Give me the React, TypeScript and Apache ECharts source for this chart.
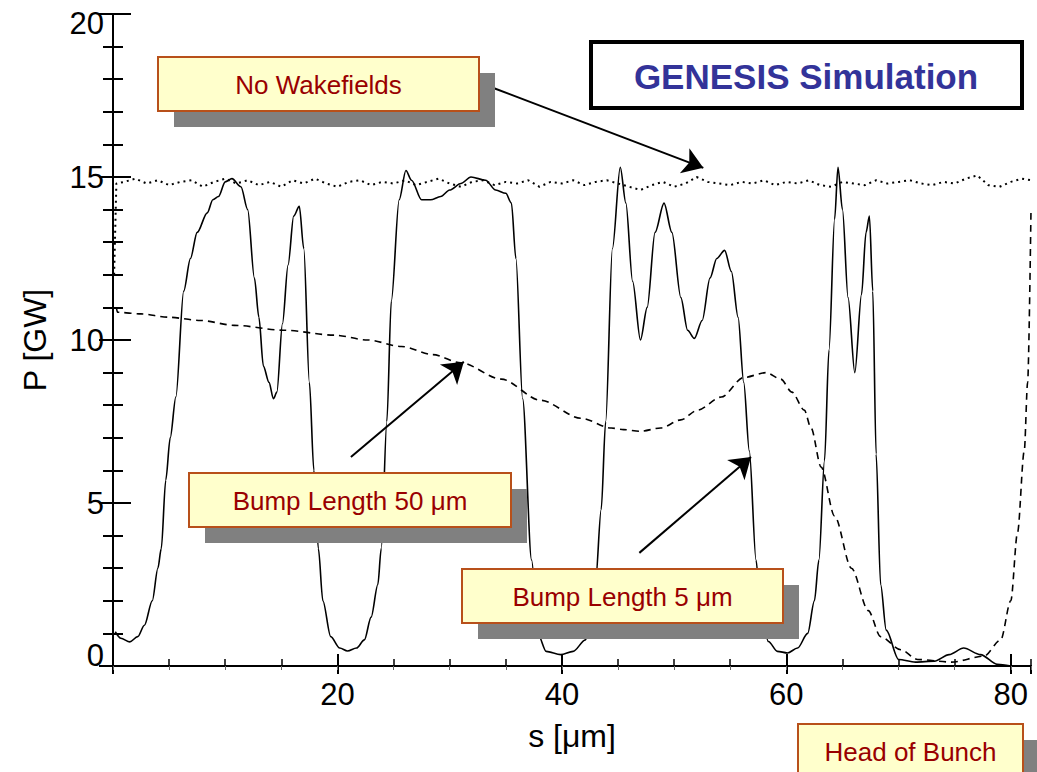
import React, { useEffect, useRef } from "react";
import * as echarts from "echarts";

// ---- Data ----
// Solid line: Bump Length 5 µm
const s5 = [0.2, 0.7, 1.5, 2.2, 2.8, 3.5, 4.0, 4.3, 4.7, 5.1, 5.6, 6.3, 6.9, 7.5, 8.4, 8.9, 9.4, 10.0, 10.6, 11.4, 12.0, 12.6, 13.0, 13.4, 13.9, 14.3, 14.6, 15.1, 15.6, 16.1, 16.6, 17.0, 17.5, 17.9, 18.3, 18.7, 19.4, 20.2, 20.9, 21.7, 22.4, 23.0, 23.6, 23.9, 24.4, 24.8, 25.5, 26.1, 26.6, 27.5, 28.3, 29.2, 30.0, 31.0, 31.9, 33.2, 34.1, 35.0, 35.5, 35.9, 36.5, 37.3, 37.9, 38.6, 39.9, 41.0, 42.1, 43.0, 43.5, 43.9, 44.5, 45.2, 45.7, 46.3, 47.0, 47.6, 48.3, 49.1, 49.8, 50.6, 51.2, 51.8, 52.5, 53.2, 53.8, 54.5, 55.1, 55.7, 56.2, 56.7, 57.3, 57.7, 58.4, 59.2, 60.1, 61.0, 61.9, 62.5, 62.9, 63.4, 63.8, 64.3, 64.6, 65.0, 65.5, 66.1, 66.7, 67.1, 67.4, 67.7, 68.0, 68.4, 68.9, 70.0, 71.5, 73.2, 74.5, 75.8, 77.3, 78.8, 80.0];
const p5 = [1.05, 0.85, 0.74, 0.9, 1.25, 2.0, 3.0, 3.6, 5.7, 7.0, 8.25, 11.5, 12.5, 13.3, 13.9, 14.3, 14.4, 14.85, 14.95, 14.7, 14.0, 11.9, 10.7, 9.2, 8.7, 8.2, 8.4, 10.5, 12.3, 13.8, 14.1, 12.8, 8.7, 6.0, 3.6, 2.0, 0.9, 0.55, 0.46, 0.55, 0.8, 1.5, 2.5, 3.6, 7.5, 11.2, 14.3, 15.2, 14.9, 14.3, 14.3, 14.4, 14.6, 14.8, 15.0, 14.9, 14.6, 14.5, 14.2, 12.5, 8.2, 3.25, 0.95, 0.45, 0.35, 0.45, 0.8, 2.6, 4.8, 7.5, 12.8, 15.3, 14.2, 11.8, 10.0, 11.0, 13.3, 14.2, 13.3, 11.3, 10.3, 10.05, 10.6, 11.9, 12.5, 12.75, 12.1, 10.7, 8.7, 6.6, 3.25, 1.7, 0.75, 0.45, 0.4, 0.55, 1.0, 2.0, 3.25, 6.3, 9.7, 13.7, 15.3, 14.0, 11.3, 9.0, 11.4, 13.3, 13.8, 11.5, 6.5, 2.5, 1.1, 0.2, 0.12, 0.15, 0.35, 0.55, 0.35, 0.05, 0.0];

// Dashed line: Bump Length 50 µm
const s50 = [0.3, 0.4, 2.5, 4.9, 7.8, 10.8, 15.2, 19.7, 22.7, 25.7, 28.5, 31.0, 34.6, 38.1, 41.7, 44.4, 45.5, 47.0, 48.8, 50.6, 52.1, 54.2, 56.2, 58.2, 59.5, 60.5, 61.6, 62.2, 63.1, 64.3, 65.8, 67.3, 68.4, 70.2, 71.7, 74.7, 77.6, 79.1, 80.0, 80.6, 81.2, 81.5, 81.8];
const p50 = [11.0, 10.85, 10.8, 10.7, 10.6, 10.45, 10.3, 10.15, 10.0, 9.8, 9.55, 9.3, 8.8, 8.15, 7.6, 7.3, 7.25, 7.2, 7.3, 7.55, 7.85, 8.25, 8.85, 9.0, 8.8, 8.4, 7.85, 7.3, 6.1, 4.6, 3.0, 1.7, 0.9, 0.5, 0.2, 0.12, 0.3, 0.8, 2.0, 4.1, 6.6, 8.7, 14.0];

// Dotted line: No Wakefields
const sNo = [0.1, 0.3, 1, 2, 3, 4, 5, 6, 7, 8, 9, 10, 11, 12, 13, 14, 15, 16, 17, 18, 19, 20, 21, 22, 23, 24, 25, 26, 27, 28, 29, 30, 31, 32, 33, 34, 35, 36, 37, 38, 39, 40, 41, 42, 43, 44, 45, 46, 47, 48, 49, 50, 51, 52, 53, 54, 55, 56, 57, 58, 59, 60, 61, 62, 63, 64, 65, 66, 67, 68, 69, 70, 71, 72, 73, 74, 75, 76, 77, 78, 79, 80, 81, 81.8];
const pNo = [12.0, 14.8, 14.85, 14.95, 14.8, 14.9, 14.75, 14.85, 14.9, 14.7, 14.85, 14.95, 14.8, 14.9, 14.75, 14.85, 14.7, 14.9, 14.8, 14.95, 14.8, 14.7, 14.85, 14.9, 14.75, 14.85, 14.8, 14.9, 14.75, 14.85, 14.95, 14.8, 14.7, 14.85, 14.9, 14.75, 14.85, 14.8, 14.9, 14.7, 14.85, 14.8, 14.9, 14.75, 14.85, 14.9, 14.8, 14.7, 14.6, 14.75, 14.85, 14.7, 14.8, 15.0, 14.85, 14.8, 14.75, 14.85, 14.8, 14.9, 14.75, 14.85, 14.8, 14.9, 14.75, 14.7, 14.85, 14.8, 14.75, 14.9, 14.8, 14.85, 14.9, 14.8, 14.75, 14.85, 14.8, 14.95, 15.05, 14.75, 14.7, 14.85, 14.95, 14.9];

// Annotation arrows (start [s, P] -> tip [s, P])
const arrowNoWake = [[33.9, 17.73], [52.6, 15.28]];
const arrow50 = [[21.2, 6.41], [31.26, 9.33]];
const arrow5 = [[46.9, 3.47], [56.85, 6.41]];

const FONT = "'Liberation Sans', Arial, Helvetica, sans-serif";

function labelBox(x: number, y: number, w: number, h: number, text: string) {
  return {
    type: "group",
    z: 100,
    children: [
      { type: "rect", shape: { x: x + 16, y: y + 16, width: w, height: h }, style: { fill: "#808080" }, z: 100 },
      { type: "rect", shape: { x, y, width: w, height: h }, style: { fill: "#FFFFCC", stroke: "#B8501A", lineWidth: 2 }, z: 101 },
      {
        type: "text",
        x: x + w / 2,
        y: y + h / 2 + 1,
        z: 102,
        style: { text, fill: "#990000", font: `26px ${FONT}`, align: "center", verticalAlign: "middle" },
      },
    ],
  };
}

export default function App() {
  const ref = useRef<HTMLDivElement>(null);
  useEffect(() => {
    if (!ref.current) return;
    const chart = echarts.init(ref.current, undefined, { renderer: "svg" });
    const axisLine = { show: true, lineStyle: { color: "#000", width: 2 } };
    const noLine = { show: false };
    const tick = (len: number, w: number, color = "#000") => ({
      show: true,
      inside: true,
      length: len,
      lineStyle: { color, width: w },
    });
    const xBase = { type: "value", min: 0, max: 81.8, splitLine: { show: false } };
    const yBase = { type: "value", min: 0, max: 20, splitLine: { show: false } };
    const option = {
      animation: false,
      backgroundColor: "#fff",
      grid: { left: 113, top: 14, width: 918, height: 652, containLabel: false },
      xAxis: [
        {
          ...xBase,
          interval: 20,
          position: "bottom",
          axisLine,
          name: "s [μm]",
          nameLocation: "middle",
          nameGap: 54,
          nameTextStyle: { fontFamily: FONT, fontSize: 32, color: "#000" },
          axisTick: tick(12, 2),
          axisLabel: {
            show: true,
            margin: 13,
            fontFamily: FONT,
            fontSize: 31,
            color: "#000",
            showMinLabel: false,
            formatter: (v: number) => (v === 0 ? "" : String(v)),
          },
        },
        { ...xBase, interval: 5, position: "bottom", axisLine: noLine, axisTick: tick(7, 1.5), axisLabel: { show: false } },
        { ...xBase, interval: 20, position: "top", axisLine, axisTick: tick(8, 2), axisLabel: { show: false } },
        { ...xBase, interval: 5, position: "top", axisLine: noLine, axisTick: tick(4, 1, "#666"), axisLabel: { show: false } },
      ],
      yAxis: [
        {
          ...yBase,
          interval: 5,
          position: "left",
          axisLine,
          name: "P [GW]",
          nameLocation: "middle",
          nameRotate: 90,
          nameGap: 62,
          nameTextStyle: { fontFamily: FONT, fontSize: 32, color: "#000" },
          axisTick: tick(18, 2),
          axisLabel: {
            show: true,
            margin: 9,
            fontFamily: FONT,
            fontSize: 31,
            color: "#000",
            formatter: (v: number) => (v === 20 ? "{t|20}" : v === 0 ? "{b|0}" : String(v)),
            rich: {
              t: { fontFamily: FONT, fontSize: 31, color: "#000", padding: [18, 0, 0, 0] },
              b: { fontFamily: FONT, fontSize: 31, color: "#000", padding: [0, 0, 22, 0] },
            },
          },
        },
        { ...yBase, interval: 1, position: "left", axisLine: noLine, axisTick: tick(10, 2), axisLabel: { show: false } },
        { ...yBase, interval: 5, position: "right", axisLine, axisTick: tick(14, 2), axisLabel: { show: false } },
        { ...yBase, interval: 1, position: "right", axisLine: noLine, axisTick: tick(10, 2), axisLabel: { show: false } },
      ],
      series: [
        {
          name: "No Wakefields",
          type: "line",
          xAxisIndex: 0,
          yAxisIndex: 0,
          data: sNo.map((s, i) => [s, pNo[i]]),
          showSymbol: false,
          lineStyle: { color: "#000", width: 2, type: [2, 4] },
          z: 3,
        },
        {
          name: "Bump Length 50 μm",
          type: "line",
          xAxisIndex: 0,
          yAxisIndex: 0,
          data: s50.map((s, i) => [s, p50[i]]),
          showSymbol: false,
          smooth: 0.3,
          smoothMonotone: "x",
          lineStyle: { color: "#000", width: 1.6, type: [7, 5] },
          z: 3,
        },
        {
          name: "Bump Length 5 μm",
          type: "line",
          xAxisIndex: 0,
          yAxisIndex: 0,
          data: s5.map((s, i) => [s, p5[i]]),
          showSymbol: false,
          smooth: 0.3,
          smoothMonotone: "x",
          itemStyle: { color: "#000" },
          lineStyle: { color: "#000", width: 1.6 },
          z: 4,
          markLine: {
            silent: true,
            symbol: ["none", "arrow"],
            symbolSize: 20,
            label: { show: false },
            itemStyle: { color: "#000" },
            lineStyle: { color: "#000", width: 2, type: "solid" },
            data: [arrowNoWake, arrow50, arrow5].map((a) => [
              { coord: a[0] },
              { coord: a[1] },
            ]),
          },
        },
      ],
      graphic: [
        labelBox(158, 57, 321, 54, "No Wakefields"),
        labelBox(189, 473, 322, 54, "Bump Length 50 μm"),
        labelBox(462, 569, 321, 54, "Bump Length 5 μm"),
        labelBox(798, 724, 225, 54, "Head of Bunch"),
        {
          type: "group",
          z: 100,
          children: [
            { type: "rect", shape: { x: 591, y: 42, width: 431, height: 66 }, style: { fill: "#fff", stroke: "#000", lineWidth: 4 }, z: 100 },
            {
              type: "text",
              x: 806,
              y: 76,
              z: 101,
              style: { text: "GENESIS Simulation", fill: "#333399", font: `bold 35px ${FONT}`, align: "center", verticalAlign: "middle" },
            },
          ],
        },
      ],
    };
    chart.setOption(option as any);
    return () => chart.dispose();
  }, []);
  return (
    <div
      ref={ref}
      style={{ position: "fixed", left: 0, top: 0, width: 1037, height: 772, background: "#fff" }}
    />
  );
}
